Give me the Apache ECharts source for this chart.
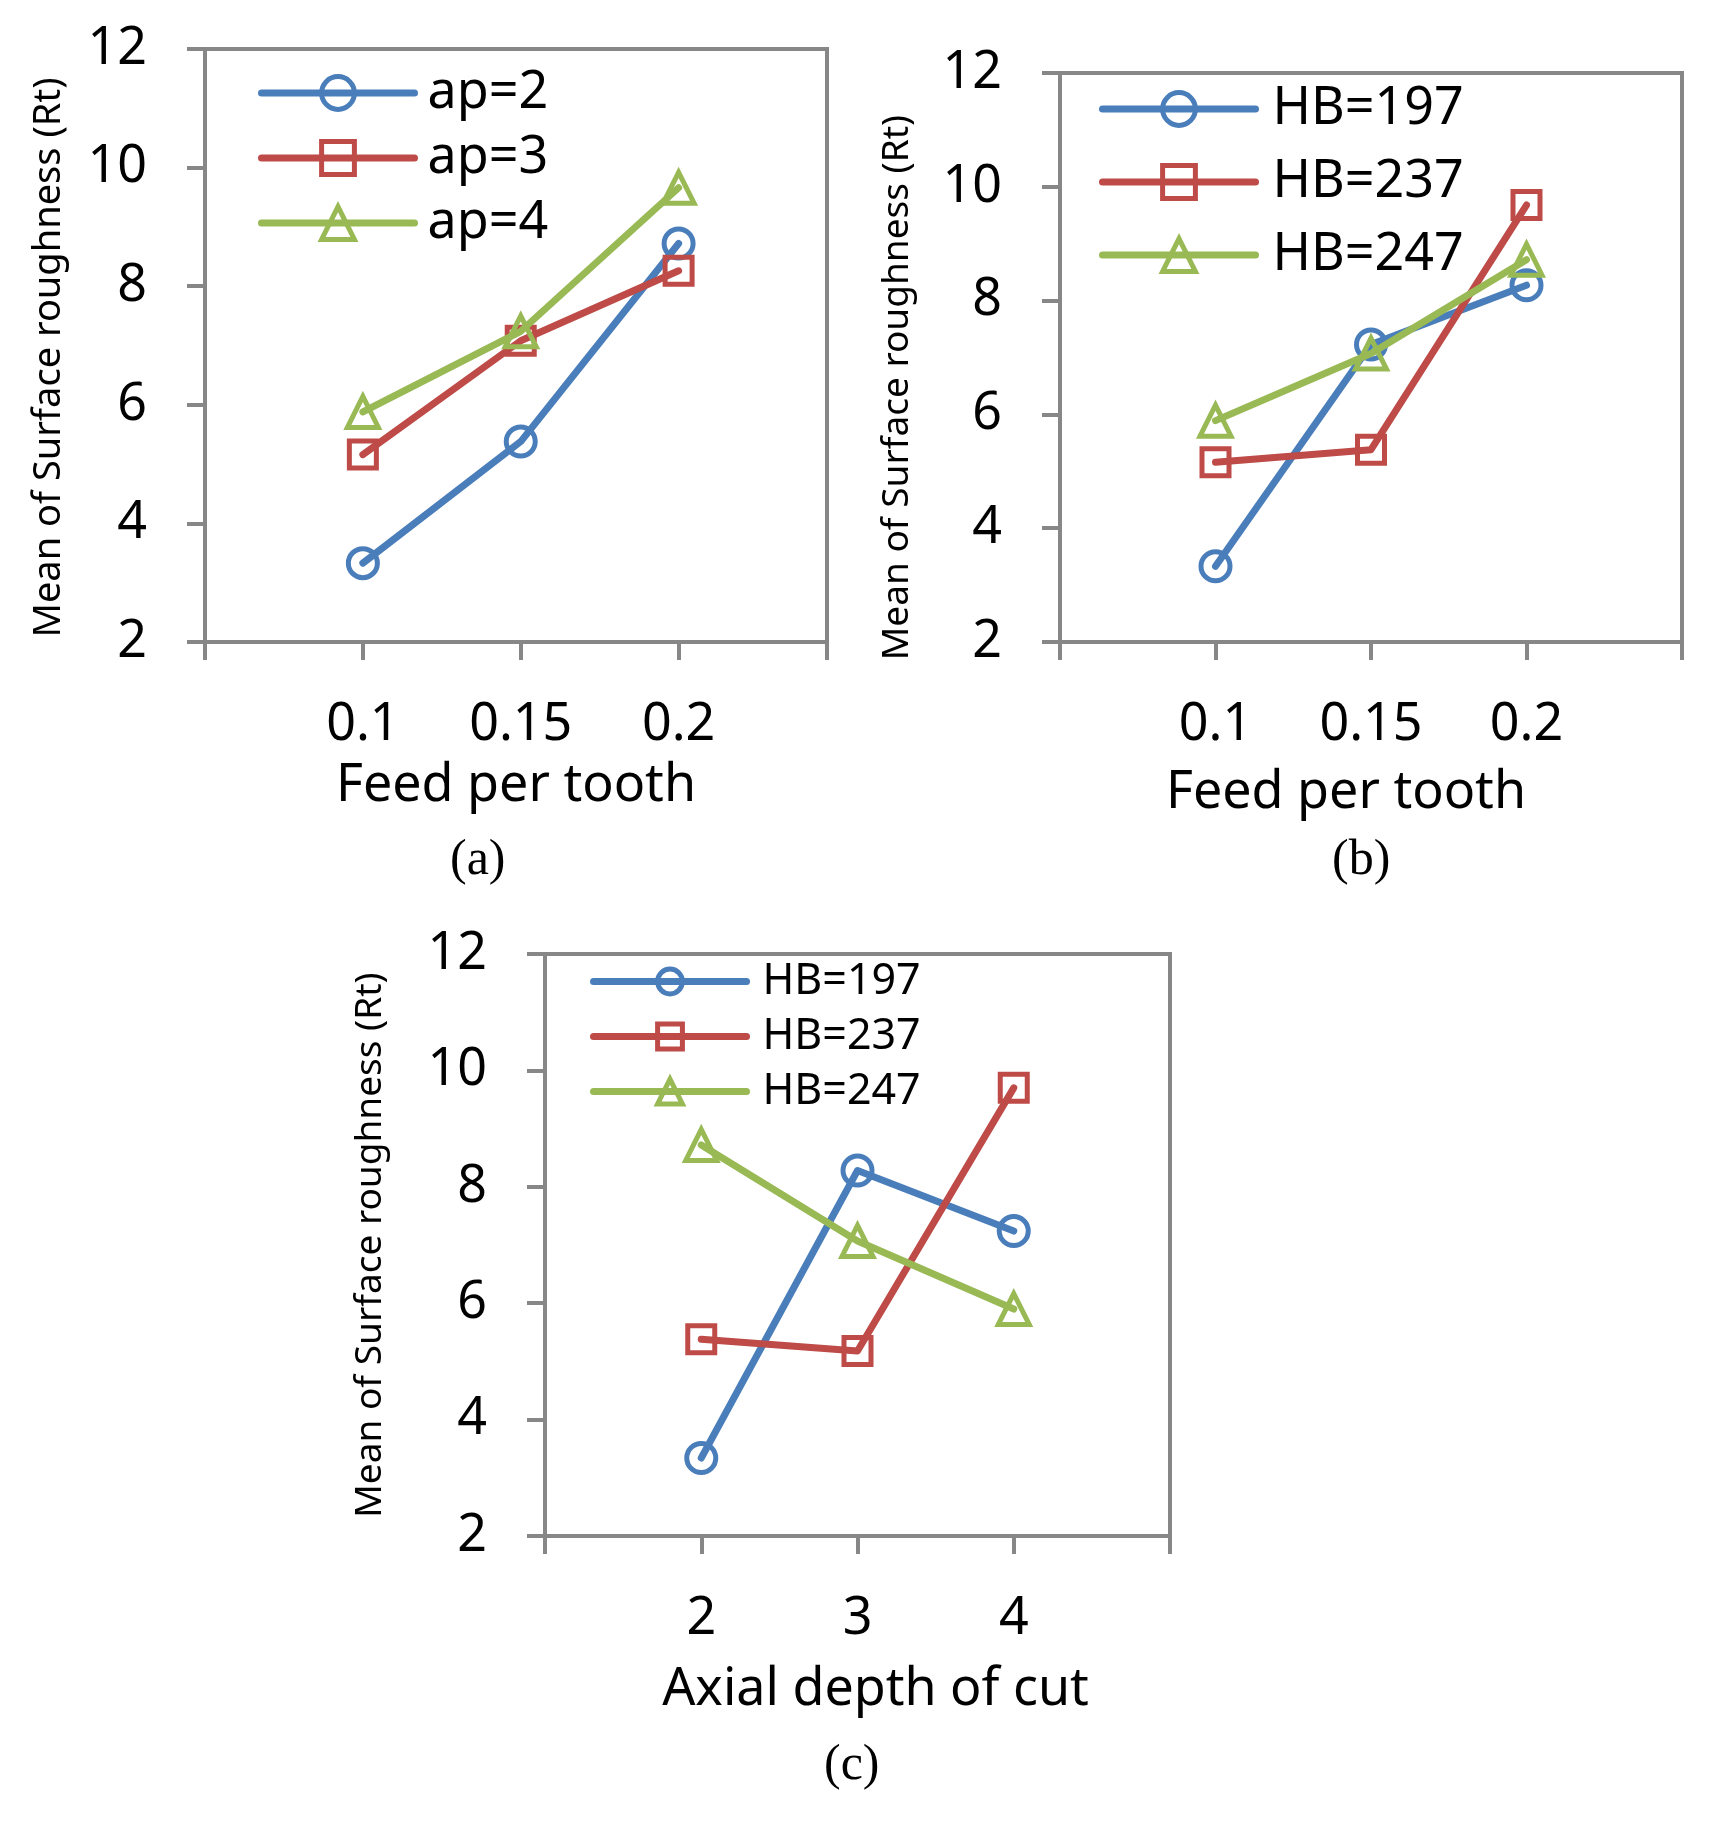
<!DOCTYPE html>
<html>
<head>
<meta charset="utf-8">
<script src="https://cdn.jsdelivr.net/npm/echarts@6/dist/echarts.min.js"></script>
<style>
html,body{margin:0;padding:0;background:#fff;}
#chart{width:1713px;height:1823px;}
</style>
</head>
<body>
<div id="chart"></div>
<script>
// ---------- data ----------
var feedPerTooth = [0.1, 0.15, 0.2];
var feedTickLabels = ['0.1', '0.15', '0.2'];
var depthOfCut = [2, 3, 4];
var depthTickLabels = ['2', '3', '4'];

var seriesNamesA = ['ap=2', 'ap=3', 'ap=4'];
var a_ap2 = [3.33, 5.38, 8.72];
var a_ap3 = [5.16, 7.08, 8.26];
var a_ap4 = [5.88, 7.24, 9.66];

var seriesNamesHB = ['HB=197', 'HB=237', 'HB=247'];
var b_hb197 = [3.33, 7.23, 8.27];
var b_hb237 = [5.16, 5.38, 9.68];
var b_hb247 = [5.89, 7.07, 8.72];

var c_hb197 = [3.34, 8.28, 7.24];
var c_hb237 = [5.38, 5.18, 9.70];
var c_hb247 = [8.72, 7.07, 5.90];

var yTicks = [2, 4, 6, 8, 10, 12];
var captions = ['(a)', '(b)', '(c)'];

// ---------- style ----------
var COLORS = ['#4A7EBB', '#BE4B48', '#98B954'];
var SYMBOLS = ['circle', 'rect', 'triangle'];
var SYMSIZE = [29, 27, 31];
var AXIS = '#878787';
var FONT = '"Noto Sans", "Open Sans", sans-serif';

function zip(xs, ys) { return xs.map(function (x, i) { return [x, ys[i]]; }); }

function mkSeries(name, idx, xs, ys, gi) {
  return {
    type: 'line', name: name, xAxisIndex: gi, yAxisIndex: gi,
    data: zip(xs, ys),
    symbol: SYMBOLS[idx], symbolSize: SYMSIZE[idx],
    itemStyle: { color: 'rgba(255,255,255,0)', borderColor: COLORS[idx], borderWidth: 5 },
    lineStyle: { color: COLORS[idx], width: 7, cap: 'round', join: 'round' },
    emphasis: { disabled: true },
    z: 2 + idx
  };
}

function labelFilter(list) {
  return function (v) {
    for (var i = 0; i < list.length; i++) {
      if (Math.abs(parseFloat(list[i]) - v) < 1e-6) return list[i];
    }
    return '';
  };
}

function mkX(gi, min, max, interval, list, name, gap, pad) {
  return {
    type: 'value', gridIndex: gi, min: min, max: max, interval: interval,
    axisLine: { show: true, lineStyle: { color: AXIS, width: 4 } },
    axisTick: { show: true, length: 18, lineStyle: { color: AXIS, width: 4 } },
    splitLine: { show: false },
    axisLabel: { formatter: labelFilter(list), margin: 57, color: '#000', fontSize: 52, fontFamily: FONT },
    name: name, nameLocation: 'middle', nameGap: gap, nameMoveOverlap: false,
    nameTextStyle: { color: '#000', fontSize: 52, fontFamily: FONT, padding: pad }
  };
}

function mkY(gi, name, gap, pad, fs) {
  return {
    type: 'value', gridIndex: gi, min: 2, max: 12, interval: 2,
    axisLine: { show: true, lineStyle: { color: AXIS, width: 4 } },
    axisTick: { show: true, length: 18, lineStyle: { color: AXIS, width: 4 } },
    splitLine: { show: false },
    axisLabel: { formatter: function (v) { return yTicks.indexOf(v) >= 0 ? String(v) : ''; },
                 margin: 58, color: '#000', fontSize: 52, fontFamily: FONT },
    name: name, nameLocation: 'middle', nameGap: gap, nameMoveOverlap: false,
    nameTextStyle: { color: '#000', fontSize: fs, fontFamily: FONT, padding: pad }
  };
}

function mkLegend(names, left, top, itemH, gap, fs, padL) {
  return {
    orient: 'vertical', left: left, top: top, data: names,
    itemWidth: 153, itemHeight: itemH, itemGap: gap, selectedMode: false,
    itemStyle: { borderWidth: 5 },
    lineStyle: { width: 7, cap: 'round' },
    textStyle: { color: '#000', fontSize: fs, fontFamily: FONT, padding: [0, 0, 0, padL] }
  };
}

var gridStyle = { show: true, borderColor: AXIS, borderWidth: 4, backgroundColor: 'transparent', containLabel: false, outerBoundsMode: 'none' };

var option = {
  backgroundColor: '#fff',
  animation: false,
  grid: [
    Object.assign({ left: 205, top: 49, width: 622, height: 593 }, gridStyle),
    Object.assign({ left: 1060, top: 73, width: 622, height: 569 }, gridStyle),
    Object.assign({ left: 545, top: 954, width: 625, height: 582 }, gridStyle)
  ],
  xAxis: [
    mkX(0, 0.05, 0.247, 0.05, feedTickLabels, 'Feed per tooth', 118, [0, 0, 0, 0]),
    mkX(1, 0.05, 0.25, 0.05, feedTickLabels, 'Feed per tooth', 125, [0, 50, 0, 0]),
    mkX(2, 1, 5, 1, depthTickLabels, 'Axial depth of cut', 128, [0, 0, 0, 36])
  ],
  yAxis: [
    mkY(0, 'Mean of Surface roughness (Rt)', 137, [0, 24, 0, 0], 38),
    mkY(1, 'Mean of Surface roughness (Rt)', 144, [0, 60, 0, 0], 37),
    mkY(2, 'Mean of Surface roughness (Rt)', 156, [0, 0, 0, 0], 37)
  ],
  legend: [
    mkLegend(seriesNamesA, 253, 62, 41, 13, 52, 8),
    mkLegend(seriesNamesHB, 1094, 78, 41, 21, 52, 12),
    mkLegend(seriesNamesHB, 585, 955, 31, 12, 43, 11)
  ],
  graphic: [
    { type: 'text', left: 478 - 28, top: 836, style: { text: captions[0], font: '50px "Liberation Serif", serif', fill: '#000' } },
    { type: 'text', left: 1361 - 29, top: 836, style: { text: captions[1], font: '50px "Liberation Serif", serif', fill: '#000' } },
    { type: 'text', left: 852 - 28, top: 1741, style: { text: captions[2], font: '50px "Liberation Serif", serif', fill: '#000' } }
  ],
  series: [
    mkSeries(seriesNamesA[0], 0, feedPerTooth, a_ap2, 0),
    mkSeries(seriesNamesA[1], 1, feedPerTooth, a_ap3, 0),
    mkSeries(seriesNamesA[2], 2, feedPerTooth, a_ap4, 0),
    mkSeries(seriesNamesHB[0], 0, feedPerTooth, b_hb197, 1),
    mkSeries(seriesNamesHB[1], 1, feedPerTooth, b_hb237, 1),
    mkSeries(seriesNamesHB[2], 2, feedPerTooth, b_hb247, 1),
    mkSeries(seriesNamesHB[0], 0, depthOfCut, c_hb197, 2),
    mkSeries(seriesNamesHB[1], 1, depthOfCut, c_hb237, 2),
    mkSeries(seriesNamesHB[2], 2, depthOfCut, c_hb247, 2)
  ]
};

var chart = echarts.init(document.getElementById('chart'), null, { renderer: 'canvas' });
chart.setOption(option);
</script>
</body>
</html>
